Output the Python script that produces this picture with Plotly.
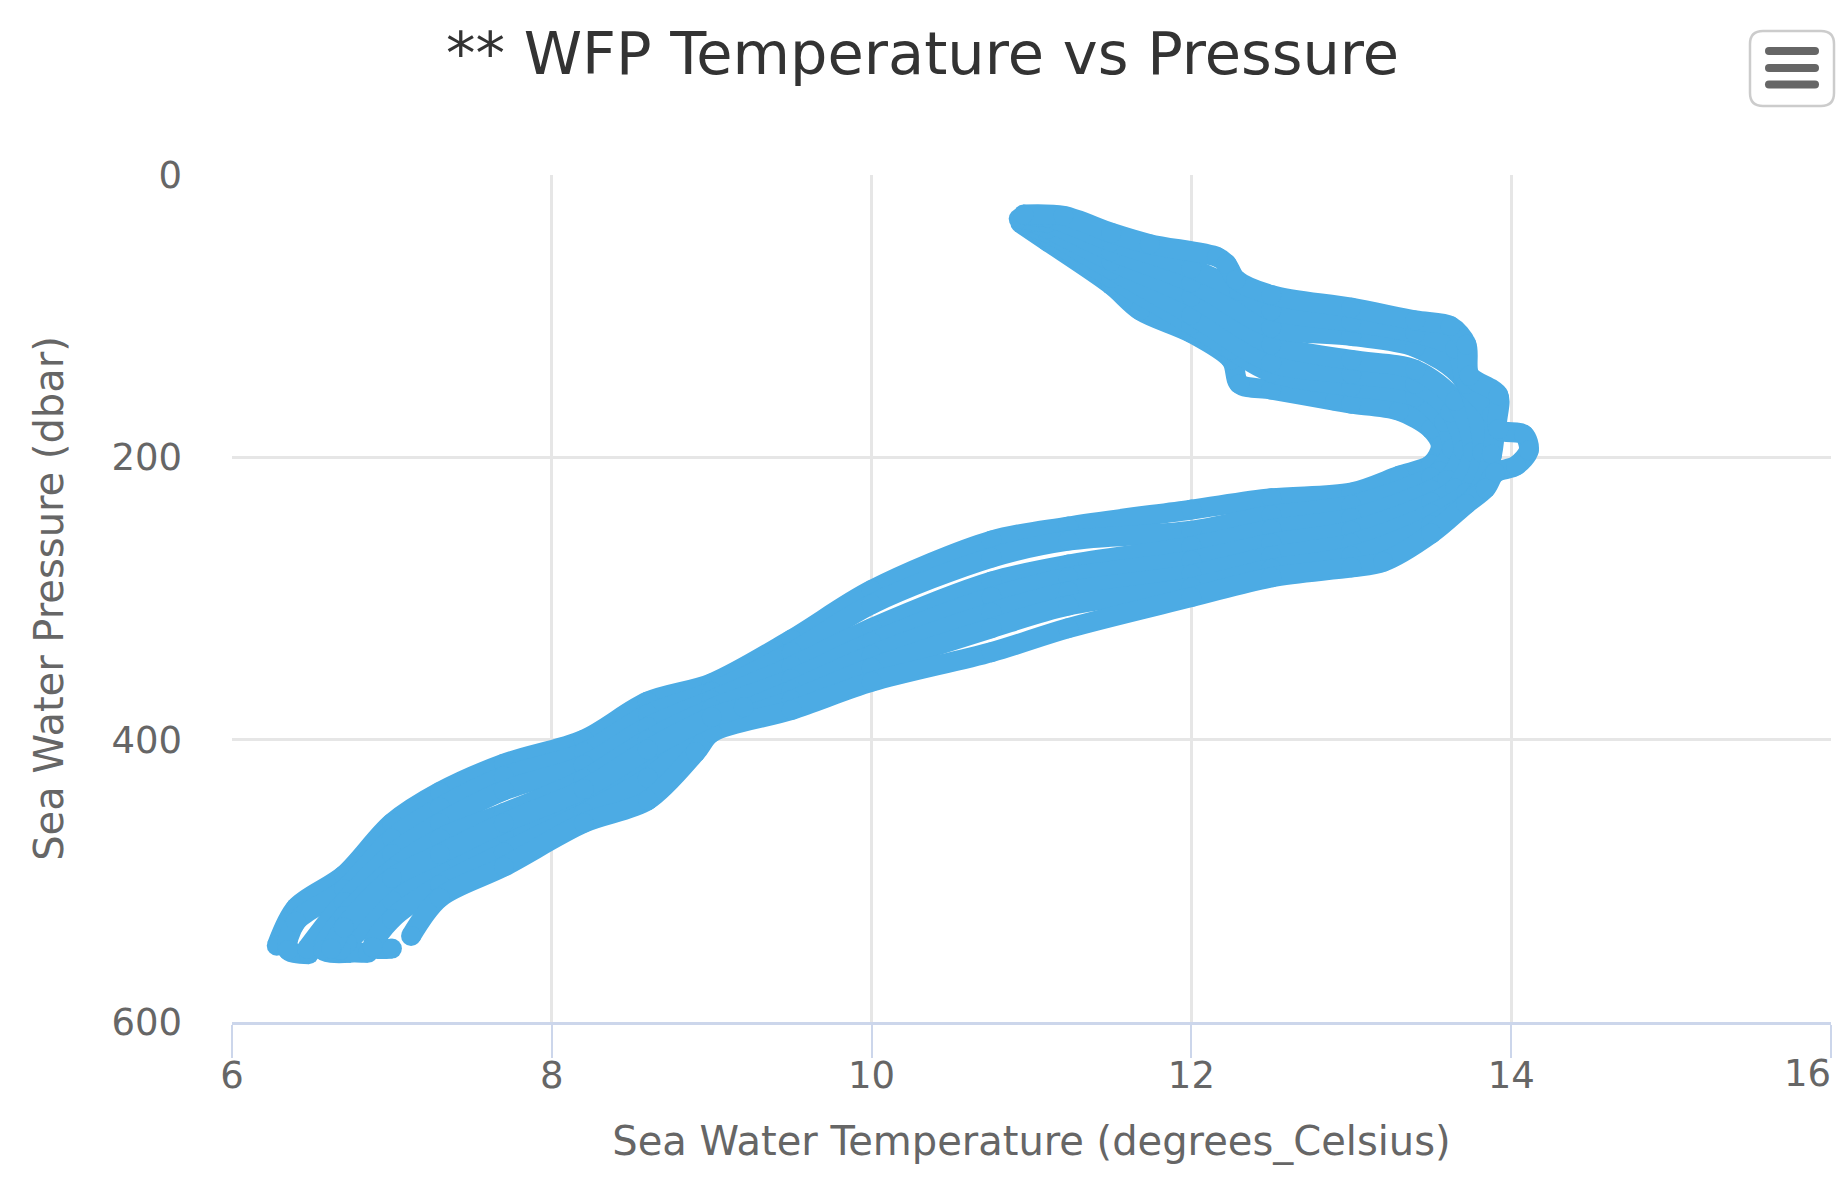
import plotly.graph_objects as go

# Wire-following profiler strands: temperature (degrees_Celsius) vs pressure (dbar)
s1_temp = [10.93, 11.1, 11.5, 11.68, 12.0, 12.25, 12.3, 12.5, 12.9, 13.0, 13.3, 13.5, 13.56, 13.5, 13.3, 13.0, 12.5, 12.0, 11.23, 10.75, 10.0, 9.5, 9.0, 8.6, 8.2, 7.7, 7.3, 7.0, 6.7, 6.4, 6.28]
s1_pres = [34, 47, 78, 96, 112, 131, 148, 152, 160, 162, 167, 180, 192, 205, 213, 225, 229, 237, 249, 259, 294, 329, 360, 373, 400, 417, 437, 459, 496, 519, 546]

s2_temp = [11.0, 11.1, 11.5, 12.0, 12.25, 12.5, 13.0, 13.4, 13.58, 13.63, 13.55, 13.5, 13.0, 12.5, 12.0, 11.23, 10.75, 10.0, 9.5, 9.0, 8.6, 8.2, 7.7, 7.3, 7.0, 6.7, 6.4, 6.35, 6.48]
s2_pres = [36, 44, 73, 106, 124, 140, 150, 157, 175, 194, 210, 214, 234, 241, 252, 259, 271, 304, 338, 366, 382, 409, 426, 448, 470, 506, 529, 549, 552]

s3_temp = [10.95, 11.1, 11.5, 12.0, 12.5, 13.0, 13.4, 13.62, 13.7, 13.6, 13.5, 13.0, 12.5, 12.0, 11.23, 10.75, 10.0, 9.5, 9.0, 8.6, 8.2, 7.7, 7.3, 7.0, 6.7, 6.47]
s3_pres = [35, 41, 67, 99, 133, 141, 148, 168, 195, 216, 223, 243, 251, 263, 276, 288, 321, 348, 372, 391, 418, 436, 459, 481, 515, 548]

s4_temp = [11.0, 11.1, 11.5, 12.0, 12.5, 13.0, 13.4, 13.65, 13.76, 13.65, 13.5, 13.0, 12.5, 12.0, 11.23, 10.75, 10.0, 9.5, 9.0, 8.6, 8.2, 7.7, 7.3, 7.0, 6.7, 6.57, 6.74]
s4_pres = [33, 38, 61, 86, 120, 131, 138, 160, 196, 222, 232, 252, 261, 273, 285, 299, 331, 357, 378, 400, 428, 452, 470, 492, 525, 549, 551]

s5_temp = [10.92, 11.1, 11.5, 12.0, 12.5, 13.0, 13.4, 13.7, 13.82, 13.72, 13.5, 13.0, 12.5, 12.0, 11.23, 10.75, 10.0, 9.5, 9.0, 8.6, 8.2, 7.7, 7.3, 7.0, 6.72, 6.68, 6.85]
s5_pres = [31, 34, 54, 76, 108, 114, 122, 145, 197, 225, 240, 261, 270, 283, 295, 310, 340, 365, 389, 414, 442, 466, 492, 514, 544, 549, 551]

s6_temp = [10.98, 11.1, 11.5, 12.0, 12.3, 12.5, 13.0, 13.4, 13.65, 13.72, 13.88, 13.88, 13.78, 13.5, 13.0, 12.5, 12.0, 11.23, 10.75, 10.0, 9.5, 9.0, 8.6, 8.2, 7.7, 7.3, 7.0, 6.88, 7.0]
s6_pres = [29, 30, 47, 66, 82, 96, 104, 112, 123, 148, 170, 198, 226, 248, 270, 279, 292, 305, 321, 349, 372, 393, 427, 452, 480, 503, 527, 547, 548]

s7_temp = [10.95, 11.2, 11.5, 11.74, 12.16, 12.22, 12.28, 12.5, 13.0, 13.4, 13.62, 13.72, 13.74, 13.92, 13.92, 14.08, 14.11, 14.03, 13.9, 13.84, 13.72, 13.5, 13.2, 13.0, 12.5, 12.0, 11.23, 10.75, 10.0, 9.5, 9.0, 8.9, 8.6, 8.2, 7.7, 7.3, 7.12]
s7_pres = [28, 29, 41, 49, 58, 63, 74, 85, 94, 103, 107, 120, 142, 156, 180, 184, 195, 206, 211, 222, 233, 254, 274, 278, 285, 299, 321, 338, 359, 379, 395, 409, 443, 459, 490, 512, 539]

s8_temp = [9.2, 9.0, 8.6, 8.2, 7.7, 7.3, 7.0, 6.7, 6.62]
s8_pres = [377, 384, 407, 435, 459, 481, 498, 533, 548]

profiles = [
    (s1_temp, s1_pres), (s2_temp, s2_pres), (s3_temp, s3_pres), (s4_temp, s4_pres),
    (s5_temp, s5_pres), (s6_temp, s6_pres), (s7_temp, s7_pres), (s8_temp, s8_pres),
]

x_ticks = [6, 8, 10, 12, 14, 16]
y_ticks = [0, 200, 400, 600]

W, H = 1845, 1182
ML, MR, MT, MB = 232, 14, 175, 160
PW, PH = W - ML - MR, H - MT - MB

SERIES_COLOR = "#4cabe4"
FONT = "DejaVu Sans"
DOT = 20

fig = go.Figure()
for temp, pres in profiles:
    fig.add_trace(go.Scatter(
        x=temp, y=pres, mode="lines",
        line=dict(color=SERIES_COLOR, width=DOT, shape="spline", smoothing=0.9),
        showlegend=False, hoverinfo="skip",
    ))
    fig.add_trace(go.Scatter(
        x=temp, y=pres, mode="markers",
        marker=dict(color=SERIES_COLOR, size=DOT, symbol="circle", line=dict(width=0)),
        showlegend=False, hoverinfo="x+y",
    ))


def px_x(px):
    return (px - ML) / PW


def px_y(py):
    return 1 - (py - MT) / PH


def rounded_rect(x0, y0, x1, y1, r):
    pts = [
        ("M", [(x0 + r, y0)]), ("L", [(x1 - r, y0)]), ("Q", [(x1, y0), (x1, y0 + r)]),
        ("L", [(x1, y1 - r)]), ("Q", [(x1, y1), (x1 - r, y1)]),
        ("L", [(x0 + r, y1)]), ("Q", [(x0, y1), (x0, y1 - r)]),
        ("L", [(x0, y0 + r)]), ("Q", [(x0, y0), (x0 + r, y0)]),
    ]
    out = []
    for cmd, coords in pts:
        out.append(cmd + " " + " ".join(f"{px_x(a):.5f},{px_y(b):.5f}" for a, b in coords))
    return " ".join(out) + " Z"


# context-menu button in the top right corner
shapes = [dict(type="path", xref="paper", yref="paper",
               path=rounded_rect(1750, 31, 1834, 106, 13),
               line=dict(color="#cccccc", width=2.5), fillcolor="#ffffff")]
for cy in (51, 68, 84.5):
    shapes.append(dict(type="path", xref="paper", yref="paper",
                       path=rounded_rect(1765, cy - 4, 1819, cy + 4, 4),
                       line=dict(width=0), fillcolor="#666666"))

# the last x label sits inside the chart edge instead of centred on its tick
annotations = [dict(text=str(x_ticks[-1]), x=x_ticks[-1], xref="x", xanchor="right", xshift=2,
                    y=px_y(1073), yref="paper", yanchor="middle", showarrow=False,
                    font=dict(family=FONT, size=37, color="#666666"))]

fig.update_layout(
    width=W, height=H,
    margin=dict(l=ML, r=MR, t=MT, b=MB, pad=0),
    paper_bgcolor="#ffffff", plot_bgcolor="#ffffff",
    font=dict(family=FONT, color="#666666"),
    title=dict(text="** WFP Temperature vs Pressure", x=0.5, xref="container", xanchor="center",
               y=1 - 53.5 / H, yref="container", yanchor="middle",
               font=dict(family=FONT, size=59, color="#333333")),
    xaxis=dict(range=[6, 16], tickvals=x_ticks,
               ticktext=[str(v) for v in x_ticks[:-1]] + [""],
               showgrid=True, gridcolor="#e6e6e6", gridwidth=3,
               zeroline=False, showline=True, linecolor="#ccd6eb", linewidth=3,
               ticks="outside", ticklen=33, tickwidth=2, tickcolor="#ccd6eb",
               ticklabelstandoff=-14,
               tickfont=dict(family=FONT, size=37, color="#666666"),
               title=dict(text="Sea Water Temperature (degrees_Celsius)", standoff=31,
                          font=dict(family=FONT, size=40, color="#666666")),
               automargin=False, fixedrange=True),
    yaxis=dict(range=[600, 0], tickvals=y_ticks, ticktext=[str(v) for v in y_ticks],
               showgrid=True, gridcolor="#e6e6e6", gridwidth=3,
               zeroline=False, showline=False, ticks="", ticklabelstandoff=49,
               tickfont=dict(family=FONT, size=37, color="#666666"),
               title=dict(text="Sea Water Pressure (dbar)", standoff=35,
                          font=dict(family=FONT, size=40, color="#666666")),
               automargin=False, fixedrange=True),
    shapes=shapes,
    annotations=annotations,
    showlegend=False,
)

fig.write_html("out.html", config={"displayModeBar": False})
